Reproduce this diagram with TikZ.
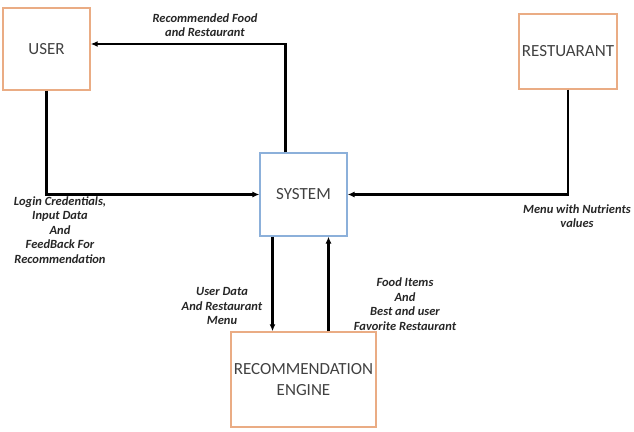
\documentclass[tikz,border=0pt]{standalone}
\usepackage{fontspec}
\setmainfont{Carlito}
\usepackage{xcolor}
\usepackage{tikz}
\usetikzlibrary{arrows.meta,positioning,calc}
\definecolor{dfdorange}{RGB}{234,172,132}
\definecolor{dfdblue}{RGB}{140,176,218}
\definecolor{dfdtext}{RGB}{65,65,65}

\begin{document}
\begin{tikzpicture}[x=1pt,y=1pt,
  entity/.style={draw=dfdorange, line width=1.4pt, text=dfdtext, align=center,
    font=\fontsize{17}{21}\selectfont, inner sep=0pt},
  process/.style={entity, draw=dfdblue, line width=1.1pt},
  flow/.style={draw=black, line width=2.2pt, -{Latex[length=7pt,width=6pt]}},
  flowlabel/.style={align=center, font=\fontsize{12.5}{14.5}\selectfont\bfseries\itshape,
    text=black!85, inner sep=0pt}]
\useasboundingbox (0,0) rectangle (634,431);

% external entities and the system
\node[entity, minimum width=87pt, minimum height=82pt] (user) at (46.5,382) {USER};
\node[entity, minimum width=98pt, minimum height=75pt] (rest) at (568,379.5) {RESTUARANT};
\node[process, minimum width=87pt, minimum height=83pt] (sys) at (303.5,236.5) {SYSTEM};
\node[entity, minimum width=145pt, minimum height=95pt] (rec) at (303.5,51.5)
  {RECOMMENDATION\\ENGINE};

% data flows
\draw[flow] ([xshift=-18pt]sys.north) |- ([yshift=5pt]user.east);
\draw[flow] (user.south) |- (sys.west);
\draw[flow] (rest.south) |- (sys.east);
\draw[flow] ([xshift=-31pt]sys.south) -- ([xshift=-31pt]rec.north);
\draw[flow] ([xshift=25pt]rec.north) -- ([xshift=25pt]sys.south);

% flow labels
\node[flowlabel] (lblrecommended) at (205,406) {Recommended Food\\and Restaurant};
\node[flowlabel] (lbllogin) at (60,201)
  {Login Credentials,\\Input Data\\And\\FeedBack For\\Recommendation};
\node[flowlabel] (lblmenu) at (577,215) {Menu with Nutrients\\values};
\node[flowlabel] (lbluserdata) at (222,125) {User Data\\And Restaurant\\Menu};
\node[flowlabel] (lblfood) at (405,127)
  {Food Items\\And\\Best and user\\Favorite Restaurant};
\end{tikzpicture}
\end{document}
